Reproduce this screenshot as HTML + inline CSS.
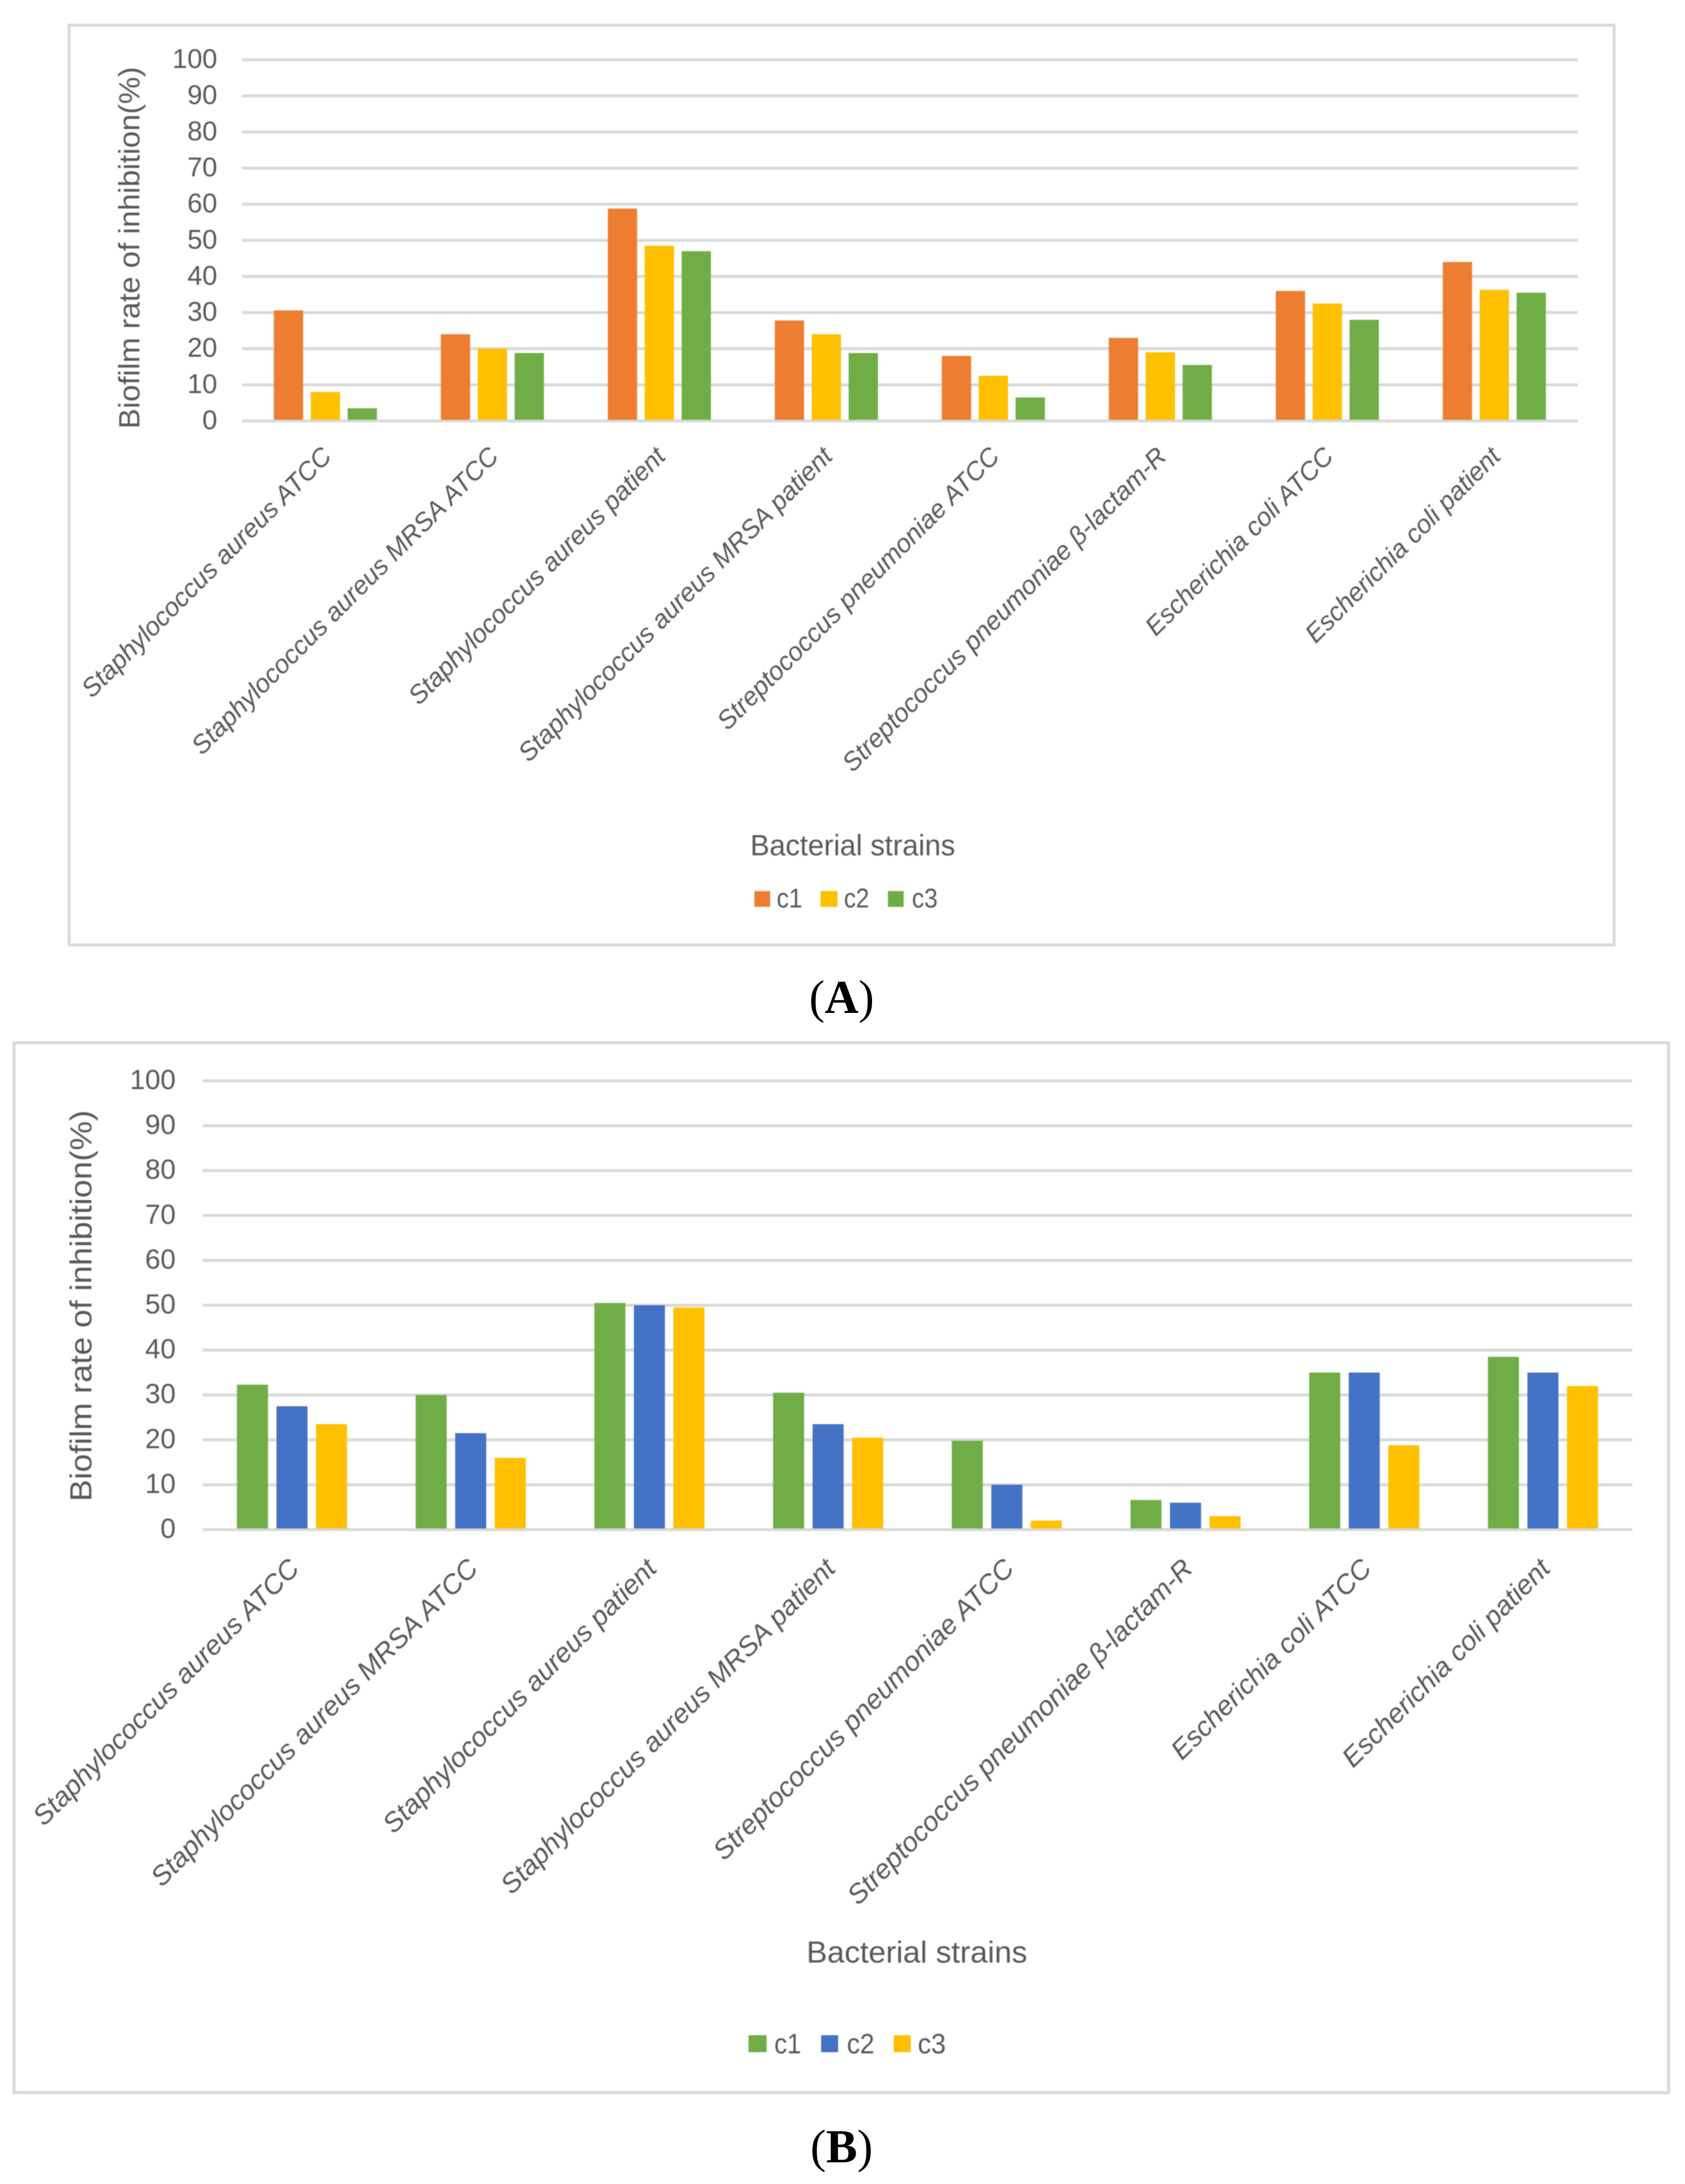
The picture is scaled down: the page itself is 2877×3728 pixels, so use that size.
<!DOCTYPE html>
<html lang="en">
<head>
<meta charset="utf-8">
<title>Biofilm rate of inhibition charts</title>
<style>
html,body{margin:0;padding:0;background:#fff;}
svg{display:block;}
text{font-family:"Liberation Sans",sans-serif;fill:#595959;}
.soft{filter:blur(0.9px);}
</style>
</head>
<body>
<svg id="figure" xmlns="http://www.w3.org/2000/svg" width="2877" height="3728" viewBox="0 0 2877 3728">
  <rect width="2877" height="3728" fill="#ffffff"/>
  <g id="chart-a" class="soft">
    <rect x="118" y="43" width="2638" height="1570" fill="#fff" stroke="#d9d9d9" stroke-width="5"/>
    <text transform="translate(238,423) rotate(-90)" text-anchor="middle" font-size="50" textLength="618" lengthAdjust="spacingAndGlyphs">Biofilm rate of inhibition(%)</text>
    <text x="1281" y="1460" font-size="50" textLength="350" lengthAdjust="spacingAndGlyphs">Bacterial strains</text>
    <rect x="1288" y="1521" width="27" height="27" fill="#ED7D31"/>
    <text x="1326" y="1549" font-size="46" textLength="44" lengthAdjust="spacingAndGlyphs">c1</text>
    <rect x="1401" y="1521" width="29" height="27" fill="#FFC000"/>
    <text x="1441" y="1549" font-size="46" textLength="43" lengthAdjust="spacingAndGlyphs">c2</text>
    <rect x="1516" y="1521" width="27" height="27" fill="#70AD47"/>
    <text x="1557" y="1549" font-size="46" textLength="44" lengthAdjust="spacingAndGlyphs">c3</text>
  </g>
  <text x="1437" y="1729" text-anchor="middle" font-size="80" style="font-family:'Liberation Serif',serif;fill:#000">(<tspan font-weight="bold">A</tspan>)</text>
  <g id="chart-b" class="soft">
    <rect x="24" y="1780" width="2825" height="1792" fill="#fff" stroke="#d9d9d9" stroke-width="5"/>
    <text transform="translate(156,2229) rotate(-90)" text-anchor="middle" font-size="52" textLength="668" lengthAdjust="spacingAndGlyphs">Biofilm rate of inhibition(%)</text>
    <text x="1377" y="3350" font-size="52" textLength="377" lengthAdjust="spacingAndGlyphs">Bacterial strains</text>
    <rect x="1278" y="3474" width="31" height="29" fill="#70AD47"/>
    <text x="1322" y="3505" font-size="48" textLength="46" lengthAdjust="spacingAndGlyphs">c1</text>
    <rect x="1402" y="3474" width="29" height="29" fill="#4472C4"/>
    <text x="1446" y="3505" font-size="48" textLength="47" lengthAdjust="spacingAndGlyphs">c2</text>
    <rect x="1526" y="3474" width="29" height="29" fill="#FFC000"/>
    <text x="1567" y="3505" font-size="48" textLength="48" lengthAdjust="spacingAndGlyphs">c3</text>
  </g>
  <text x="1437" y="3691" text-anchor="middle" font-size="80" style="font-family:'Liberation Serif',serif;fill:#000">(<tspan font-weight="bold">B</tspan>)</text>
</svg>
<script>
const categories = ["Staphylococcus aureus ATCC","Staphylococcus aureus MRSA ATCC","Staphylococcus aureus patient","Staphylococcus aureus MRSA patient","Streptococcus pneumoniae ATCC","Streptococcus pneumoniae β-lactam-R","Escherichia coli ATCC","Escherichia coli patient"];
const yTickLabels = [0,10,20,30,40,50,60,70,80,90,100];
const seriesNames = ["c1","c2","c3"];
const chartAC1 = [30.6,24,58.8,27.8,18,23,36,44];
const chartAC2 = [8,20,48.5,24,12.5,19,32.5,36.3];
const chartAC3 = [3.5,18.8,47,18.8,6.5,15.5,28,35.5];
const chartBC1 = [32.3,30,50.5,30.5,19.8,6.6,35,38.5];
const chartBC2 = [27.5,21.5,50,23.5,10,6,35,35];
const chartBC3 = [23.5,16,49.5,20.5,2,3,18.8,32];

const SVG_NS = "http://www.w3.org/2000/svg";

function drawChart(groupId, prefix, layout, seriesValues, seriesColors) {
  const root = document.getElementById(groupId);
  const yScale = v => layout.y0 + (layout.y100 - layout.y0) * v / 100;
  const groupWidth = (layout.x1 - layout.x0) / categories.length;
  const groupCenter = i => layout.x0 + groupWidth * (i + 0.5);

  yTickLabels.forEach(t => {
    const line = document.createElementNS(SVG_NS, "rect");
    
    
    line.setAttribute("x", layout.x0);
    line.setAttribute("y", yScale(t) - 2.5);
    line.setAttribute("width", layout.x1 - layout.x0);
    line.setAttribute("height", 5);
    line.setAttribute("fill", "#d9d9d9");
    root.appendChild(line);

    const label = document.createElementNS(SVG_NS, "text");
    
    
    label.setAttribute("transform", "translate(" + layout.tickRight + "," + (yScale(t) + 14) + ")");
    label.setAttribute("text-anchor", "end");
    label.setAttribute("font-size", layout.tickSize);
    label.textContent = t;
    root.appendChild(label);
  });

  seriesValues.forEach((values, s) => {
    values.forEach((v, i) => {
      const bar = document.createElementNS(SVG_NS, "rect");
      
      
      bar.setAttribute("x", groupCenter(i) + (s - 1) * layout.barStep - layout.barWidth / 2);
      bar.setAttribute("y", yScale(v));
      bar.setAttribute("width", layout.barWidth);
      bar.setAttribute("height", layout.y0 - 2 - yScale(v));
      bar.setAttribute("fill", seriesColors[s]);
      root.appendChild(bar);
    });
  });

  categories.forEach((c, i) => {
    const label = document.createElementNS(SVG_NS, "text");
    
    
    label.setAttribute("transform", "translate(" + (groupCenter(i) + layout.labelDx) + "," + (layout.y0 + layout.labelDy) + ") rotate(" + layout.labelAngle + ") scale(" + layout.labelScale + ",1)");
    label.setAttribute("text-anchor", "end");
    label.setAttribute("font-size", layout.labelSize);
    label.setAttribute("font-style", "italic");
    label.textContent = c;
    root.appendChild(label);
  });
}

drawChart("chart-a", "chart-a", {
  x0: 413, x1: 2694, y0: 718.5, y100: 102,
  barWidth: 50, barStep: 63,
  tickRight: 371, tickSize: 46,
  labelDx: 13, labelDy: 63, labelAngle: -45, labelScale: 1.0, labelSize: 44
}, [chartAC1, chartAC2, chartAC3], ["#ED7D31", "#FFC000", "#70AD47"]);

drawChart("chart-b", "chart-b", {
  x0: 346, x1: 2787, y0: 2611, y100: 1845,
  barWidth: 53, barStep: 67.5,
  tickRight: 300, tickSize: 47,
  labelDx: 15, labelDy: 69, labelAngle: -45, labelScale: 1.02, labelSize: 46
}, [chartBC1, chartBC2, chartBC3], ["#70AD47", "#4472C4", "#FFC000"]);
</script>
</body>
</html>
